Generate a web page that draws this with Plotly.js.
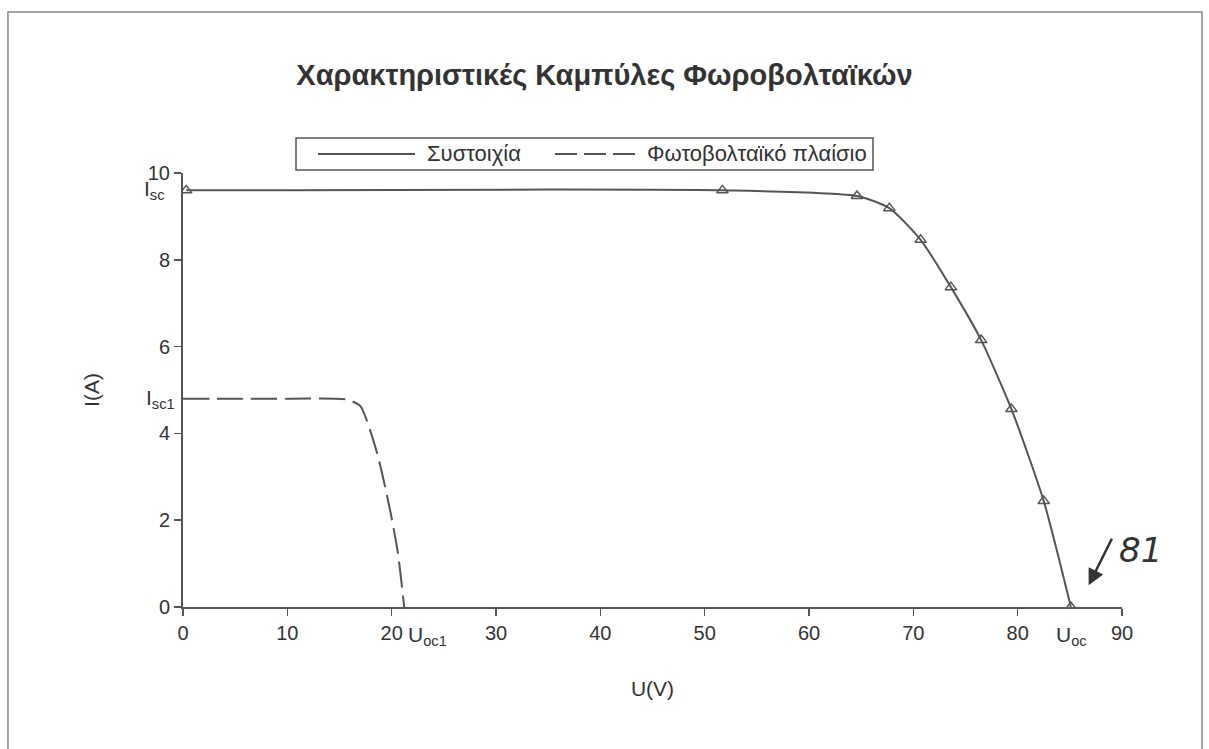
<!DOCTYPE html>
<html>
<head>
<meta charset="utf-8">
<script src="https://cdn.plot.ly/plotly-3.0.1.min.js"></script>
<style>html,body{margin:0;padding:0;background:#fff;}#chart{width:1209px;height:749px;}</style>
</head>
<body>
<div id="chart"></div>
<script>
// Array (Συστοιχία) I-U points (triangle markers)
const arrayU = [0.3, 51.7, 64.6, 67.7, 70.7, 73.6, 76.5, 79.4, 82.5, 85.1];
const arrayI = [9.6, 9.6, 9.47, 9.19, 8.46, 7.37, 6.15, 4.56, 2.44, 0];
// Single module (Φωτοβολταϊκό πλαίσιο) curve
const moduleU = [0, 5, 10, 15.7, 17.0, 18.6, 19.9, 20.6, 21.2];
const moduleI = [4.8, 4.8, 4.8, 4.78, 4.63, 3.55, 2.17, 1.24, 0];
const xTicks = [0, 10, 20, 30, 40, 50, 60, 70, 80, 90];
const yTicks = [0, 2, 4, 6, 8, 10];
const seriesNames = ["Συστοιχία", "Φωτοβολταϊκό πλαίσιο"];
const titleText = "Χαρακτηριστικές Καμπύλες Φωροβολταϊκών";

const FONT = "Liberation Sans, Arial, sans-serif";
const INK = "#333";
const LINE = "#555";

// plot-area pixel geometry -> paper coordinates helpers
const L = 183, R = 87, T = 173, B = 142, W = 1209, H = 749;
const PW = W - L - R, PH = H - T - B;
const px = v => (v - L) / PW;
const py = v => (H - B - v) / PH;

const traces = [
  {x: arrayU, y: arrayI, name: seriesNames[0], type: "scatter", mode: "lines",
   line: {color: LINE, width: 2, shape: "spline", smoothing: 0.6}},
  {x: moduleU, y: moduleI, name: seriesNames[1], type: "scatter", mode: "lines",
   line: {color: LINE, width: 2, dash: "26px,8px", shape: "spline", smoothing: 0.6}},
  {x: arrayU, y: arrayI, name: seriesNames[0], type: "scatter", mode: "markers",
   marker: {symbol: "triangle-up-open", size: 10, color: LINE, line: {width: 1.5, color: LINE}}}
];

const legY = py(154);

const layout = {
  width: W, height: H,
  paper_bgcolor: "#fff", plot_bgcolor: "#fff",
  margin: {l: L, r: R, t: T, b: B},
  font: {family: FONT, color: INK, size: 20},
  title: {text: "<b>" + titleText + "</b>", font: {size: 29, family: FONT, color: INK},
          x: 0.5, xanchor: "center", y: 0.9, yanchor: "middle", yref: "container"},
  showlegend: false,
  xaxis: {range: [0, 90], tickvals: xTicks, showgrid: false, zeroline: false,
          showline: true, linecolor: LINE, linewidth: 2, ticks: "outside", ticklen: 7,
          tickwidth: 1.5, tickcolor: LINE, tickfont: {size: 20},
          title: {text: "U(V)", font: {size: 21}, standoff: 38}},
  yaxis: {range: [0, 10], tickvals: yTicks, showgrid: false, zeroline: false,
          showline: true, linecolor: LINE, linewidth: 2, ticks: "outside", ticklen: 7,
          tickwidth: 1.5, tickcolor: LINE, tickfont: {size: 20},
          title: {text: "I(A)", font: {size: 21}, standoff: 42}},
  annotations: [
    {text: seriesNames[0], xref: "paper", yref: "paper", x: px(425), y: legY,
     xanchor: "left", yanchor: "middle", showarrow: false, font: {size: 22}},
    {text: seriesNames[1], xref: "paper", yref: "paper", x: px(645), y: legY,
     xanchor: "left", yanchor: "middle", showarrow: false, font: {size: 22}},
    {text: "I<sub>sc</sub>", xref: "paper", x: 0, xanchor: "right", xshift: -16, yref: "y", y: 9.6,
     showarrow: false, font: {size: 21}},
    {text: "I<sub>sc1</sub>", xref: "paper", x: 0, xanchor: "right", xshift: -6, yref: "y", y: 4.8,
     showarrow: false, font: {size: 21}},
    {text: "U<sub>oc1</sub>", xref: "x", x: 23.4, yref: "paper", y: 0, yanchor: "top", yshift: -14,
     showarrow: false, font: {size: 21}},
    {text: "U<sub>oc</sub>", xref: "x", x: 85.2, yref: "paper", y: 0, yanchor: "top", yshift: -14,
     showarrow: false, font: {size: 21}},
    {text: "", xref: "x", yref: "y", x: 86.8, y: 0.5, ax: 24, ay: -48, showarrow: true,
     arrowhead: 2, arrowsize: 1.3, arrowwidth: 2.5, arrowcolor: "#333"},
    {text: "<i>81</i>", xref: "paper", yref: "paper", x: px(1140), y: py(550),
     xanchor: "center", yanchor: "middle", showarrow: false,
     font: {size: 34, family: "DejaVu Sans, sans-serif", color: "#333"}}
  ],
  shapes: [
    // scanned page frame
    {type: "path", xref: "paper", yref: "paper",
     path: "M -0.1864 -0.5 L -0.1864 1.371 L 1.0852 1.371 L 1.0852 -0.5",
     line: {color: "#888", width: 1.5}},
    // legend box and samples
    {type: "rect", xref: "paper", yref: "paper", x0: px(296), x1: px(873), y0: py(170), y1: py(138),
     line: {color: LINE, width: 1.5}, fillcolor: "#fff"},
    {type: "line", xref: "paper", yref: "paper", x0: px(318), x1: px(415), y0: legY, y1: legY,
     line: {color: LINE, width: 2}},
    {type: "line", xref: "paper", yref: "paper", x0: px(555), x1: px(635), y0: legY, y1: legY,
     line: {color: LINE, width: 2, dash: "22px,7px"}}
  ]
};

Plotly.newPlot("chart", traces, layout, {displayModeBar: false, staticPlot: true});
</script>
</body>
</html>
